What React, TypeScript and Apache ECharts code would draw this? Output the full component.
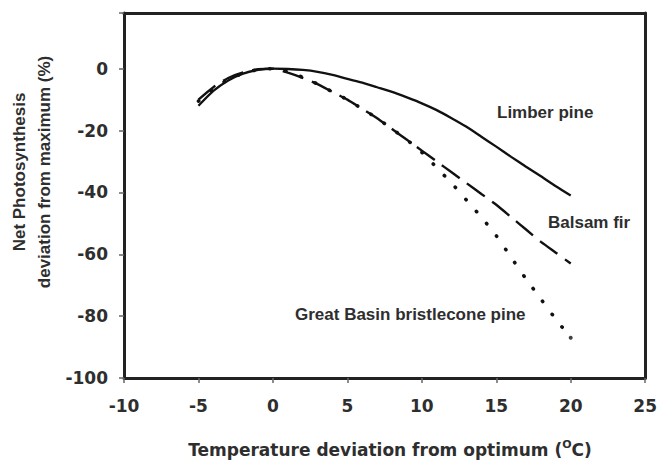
import React, { useEffect, useRef } from "react";
import * as echarts from "echarts";

const temps = [-5, -4, -3, -2, -1, 0, 1, 2, 3, 4, 5, 6, 7, 8, 9, 10, 11, 12, 13, 14, 15, 16, 17, 18, 19, 20];
const limberPine = [-12, -7.2, -3.8, -1.6, -0.4, 0, -0.1, -0.4, -1, -2, -3.3, -4.5, -6, -7.5, -9.3, -11.2, -13.4, -16, -18.8, -22, -25.2, -28.5, -31.7, -34.8, -38, -41];
const balsamFir = [-10, -6, -3, -1.2, -0.2, 0, -1.3, -3, -5, -7.5, -10, -13, -16, -19.5, -23, -26.5, -30, -33.5, -37, -40.5, -44, -48, -52, -56, -59.5, -63];
const bristlecone = [-10.5, -6.5, -3.5, -1.5, -0.3, 0, -1, -2.8, -5, -7.5, -10, -13, -16, -19.5, -23, -27, -32, -37, -42.5, -48, -54, -61, -68, -74.5, -81, -87];

const xTicks = { min: -10, max: 25, interval: 5 };
const yTicks = { min: -100, max: 18, interval: 20 };

const seriesLabels = ["Limber pine", "Balsam fir", "Great Basin bristlecone pine"];

const pairs = (ys: number[]) => temps.map((t, i) => [t, ys[i]]);

export default function App() {
  const ref = useRef<HTMLDivElement>(null);
  useEffect(() => {
    if (!ref.current) return;
    const chart = echarts.init(ref.current, undefined, { renderer: "svg" });
    const textColor = "#2e2e2e";
    const annFont = { fontFamily: "Liberation Sans", fontWeight: "bold" as const, fontSize: 17, fill: textColor };
    const frameAxis = {
      type: "value",
      axisLine: { show: true, onZero: false, lineStyle: { color: "#222", width: 3 } },
      axisTick: { show: false },
      axisLabel: { show: false },
      splitLine: { show: false },
    };
    chart.setOption({
      animation: false,
      backgroundColor: "#fff",
      grid: { left: 124, right: 13, top: 13, bottom: 83 },
      xAxis: [
        {
          type: "value",
          min: xTicks.min,
          max: xTicks.max,
          interval: xTicks.interval,
          axisLine: { show: true, onZero: false, lineStyle: { color: "#222", width: 3 } },
          axisTick: { show: true, inside: false, length: 5, lineStyle: { color: "#666", width: 1.5 } },
          splitLine: { show: false },
          axisLabel: { fontFamily: "DejaVu Sans", fontWeight: "bold", fontSize: 17, color: textColor, margin: 19 },
        },
        { ...frameAxis, position: "top", min: xTicks.min, max: xTicks.max },
      ],
      yAxis: [
        {
          type: "value",
          min: yTicks.min,
          max: yTicks.max,
          interval: yTicks.interval,
          axisLine: { show: true, onZero: false, lineStyle: { color: "#222", width: 3 } },
          axisTick: { show: true, inside: false, length: 5, lineStyle: { color: "#666", width: 1.5 } },
          splitLine: { show: false },
          axisLabel: {
            fontFamily: "DejaVu Sans",
            fontWeight: "bold",
            fontSize: 17,
            color: textColor,
            margin: 16,
            formatter: (v: number) => (v > 0 ? "" : String(v)),
          },
        },
        { ...frameAxis, position: "right", min: yTicks.min, max: yTicks.max },
      ],
      series: [
        {
          name: seriesLabels[2],
          type: "line",
          data: pairs(bristlecone),
          showSymbol: false,
          smooth: 0.2,
          z: 2,
          lineStyle: { color: "#111", width: 3.6, type: [0.5, 15.5], cap: "round" },
        },
        {
          name: seriesLabels[2] + " end",
          type: "scatter",
          data: [[temps[temps.length - 1], bristlecone[bristlecone.length - 1]]],
          symbol: "circle",
          symbolSize: 4,
          itemStyle: { color: "#111" },
          z: 2,
        },
        {
          name: seriesLabels[1],
          type: "line",
          data: pairs(balsamFir),
          showSymbol: false,
          smooth: 0.2,
          z: 3,
          lineStyle: { color: "#111", width: 2.4, type: [22, 9] },
        },
        {
          name: seriesLabels[0],
          type: "line",
          data: pairs(limberPine),
          showSymbol: false,
          smooth: 0.2,
          z: 4,
          lineStyle: { color: "#111", width: 2.3, type: "solid" },
        },
      ],
      graphic: [
        { type: "text", left: 497, top: 104, style: { ...annFont, text: seriesLabels[0] } },
        { type: "text", left: 548, top: 214, style: { ...annFont, text: seriesLabels[1] } },
        { type: "text", left: 295, top: 306, style: { ...annFont, text: seriesLabels[2] } },
        {
          type: "text",
          x: 32,
          y: 172,
          rotation: Math.PI / 2,
          style: {
            text: "Net Photosynthesis\ndeviation from maximum (%)",
            fontFamily: "Liberation Sans",
            fontWeight: "bold",
            fontSize: 17,
            fill: textColor,
            align: "center",
            verticalAlign: "middle",
            lineHeight: 25,
          },
        },
        {
          type: "text",
          x: 390,
          y: 450,
          style: {
            text: "{a|Temperature deviation from optimum (}{b|O}{a|C)}",
            align: "center",
            verticalAlign: "middle",
            fill: textColor,
            rich: {
              a: { fontFamily: "DejaVu Sans", fontWeight: "bold", fontSize: 17, color: textColor, lineHeight: 22 },
              b: { fontFamily: "DejaVu Sans", fontWeight: "bold", fontSize: 11, color: textColor, verticalAlign: "top", lineHeight: 22, padding: [0, 0, 8, 0] },
            },
          },
        },
      ],
    });
    return () => chart.dispose();
  }, []);
  return <div ref={ref} style={{ width: 660, height: 461, position: "absolute", left: 0, top: 0 }} />;
}
